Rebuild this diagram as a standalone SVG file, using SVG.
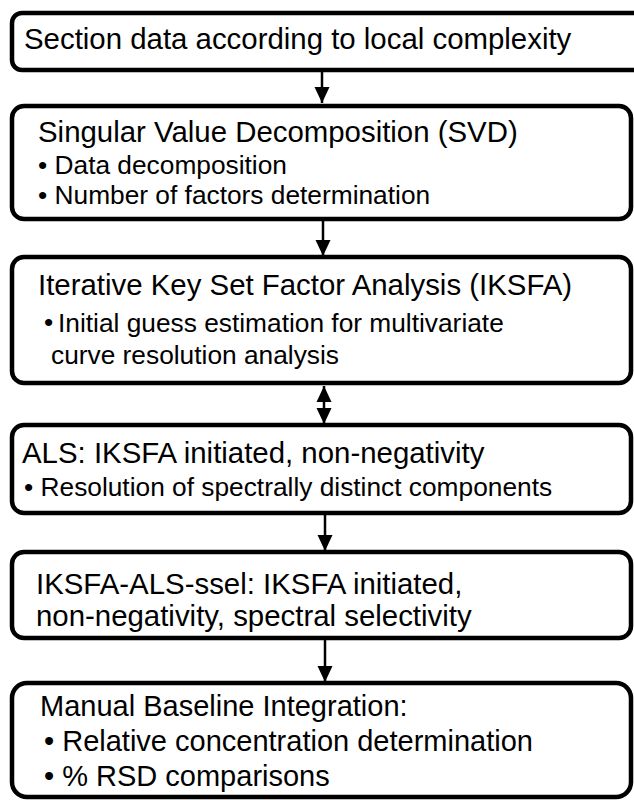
<svg xmlns="http://www.w3.org/2000/svg" width="634" height="800" viewBox="0 0 634 800">
  <style>
    .box { fill: #ffffff; stroke: #000000; stroke-width: 4.5; }
    .t { font-family: "Liberation Sans", Arial, sans-serif; fill: #000000; }
    .h { font-size: 29.4px; }
    .b { font-size: 26.3px; }
    .m { font-size: 29px; }
    .link { stroke: #000000; stroke-width: 2.5; fill: none; }
  </style>
  <defs>
    <marker id="head" viewBox="0 0 16 16" refX="16" refY="8" markerWidth="16" markerHeight="16" markerUnits="userSpaceOnUse" orient="auto">
      <path d="M0,0.5 L16,8 L0,15.5 Z" fill="#000000"/>
    </marker>
  </defs>

  <rect width="634" height="800" fill="#ffffff"/>

  <g id="connectors">
    <line class="link" x1="322" y1="71" x2="322" y2="103" marker-end="url(#head)"/>
    <line class="link" x1="323" y1="219" x2="323" y2="256" marker-end="url(#head)"/>
    <line class="link" x1="324" y1="405" x2="324" y2="386" marker-end="url(#head)"/>
    <line class="link" x1="324" y1="405" x2="324" y2="424" marker-end="url(#head)"/>
    <line class="link" x1="325" y1="513" x2="325" y2="551" marker-end="url(#head)"/>
    <line class="link" x1="325" y1="638" x2="325" y2="682" marker-end="url(#head)"/>
  </g>

  <g id="n1">
    <rect class="box" x="12" y="13" width="640" height="57" rx="10"/>
    <text class="t h" x="24" y="49" font-size="29.1">Section data according to local complexity</text>
  </g>

  <g id="n2">
    <rect class="box" x="12" y="106" width="619" height="113" rx="12"/>
    <text class="t h" x="38" y="142">Singular Value Decomposition (SVD)</text>
    <text class="t b" x="38" y="174">• Data decomposition</text>
    <text class="t b" x="38" y="204">• Number of factors determination</text>
  </g>

  <g id="n3">
    <rect class="box" x="12" y="257" width="619" height="126" rx="12"/>
    <text class="t h" x="38" y="295">Iterative Key Set Factor Analysis (IKSFA)</text>
    <text class="t b" x="44" y="331">•</text>
    <text class="t b" x="58" y="332">Initial guess estimation for multivariate</text>
    <text class="t b" x="51" y="364">curve resolution analysis</text>
  </g>

  <g id="n4">
    <rect class="box" x="12" y="425" width="619" height="88" rx="12"/>
    <text class="t h" x="22" y="463">ALS: IKSFA initiated, non-negativity</text>
    <text class="t b" x="24" y="496">• Resolution of spectrally distinct components</text>
  </g>

  <g id="n5">
    <rect class="box" x="12" y="552" width="619" height="86" rx="12"/>
    <text class="t h" x="36" y="594">IKSFA-ALS-ssel: IKSFA initiated,</text>
    <text class="t h" x="36" y="626">non-negativity, spectral selectivity</text>
  </g>

  <g id="n6">
    <rect class="box" x="12" y="683" width="619" height="114" rx="15"/>
    <text class="t m" x="40" y="716">Manual Baseline Integration:</text>
    <text class="t m" x="44" y="751">• Relative concentration determination</text>
    <text class="t m" x="44" y="786">• % RSD comparisons</text>
  </g>
</svg>
